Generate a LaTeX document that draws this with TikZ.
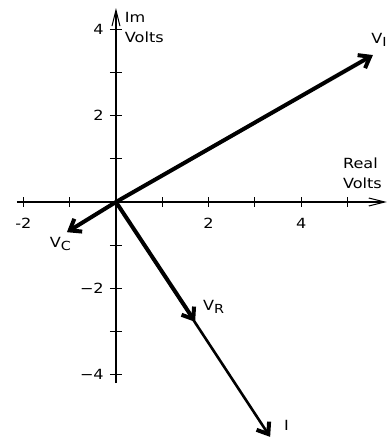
\documentclass[tikz,border=0pt]{standalone}
\usepackage{fontspec}
\setmainfont[FakeStretch=1.15]{DejaVu Sans}
\usepackage{tikz}
\usetikzlibrary{arrows.meta,positioning}
\newcommand{\lowsub}[1]{\raisebox{-0.45ex}{\fontsize{12.5}{12.5}\selectfont #1}}
\tikzset{
  axisline/.style={line width=1.1pt,-{Straight Barb[length=16pt,width=8pt,line width=1pt]}},
  tickmark/.style={line width=1.1pt},
  phasor/.style={line width=4pt,-{Straight Barb[length=10pt,width=15pt]}},
  current/.style={line width=2.6pt,-{Straight Barb[length=10pt,width=15pt,line width=4pt]}},
  ticklabel/.style={inner sep=0pt,font=\fontsize{14}{14}\selectfont},
  phasorlabel/.style={inner sep=0pt,anchor=north west,font=\fontsize{14}{14}\selectfont},
  axislabel/.style={inner sep=0pt,anchor=north west,align=left,font=\fontsize{14}{20}\selectfont}
}

\begin{document}
\begin{tikzpicture}[x=46.3pt,y=43.1pt]
  \useasboundingbox (-2.505,-5.476) rectangle (5.853,4.687);
  % axes
  \coordinate (O) at (0,0);
  \coordinate (xstart) at (-2.14,0);
  \coordinate (xend) at (5.85,0);
  \coordinate (ystart) at (0,-4.2);
  \coordinate (yend) at (0,4.5);
  \draw[axisline] (xstart) -- (xend);
  \draw[axisline] (ystart) -- (yend);
  \foreach \x in {-2,-1,1,2,3,4,5}
    \draw[tickmark] (\x,-0.116) -- (\x,0.116);
  \foreach \y in {-4,...,-1,1,2,3,4}
    \draw[tickmark] (-0.13,\y) -- (0.13,\y);
  \foreach \x/\t in {-2/-2,2/2,4/4}
    \node[ticklabel,anchor=north] (xlab\x) at (\x,-0.37) {\t};
  \foreach \y/\t in {4/4,2/2,-2/−2,-4/−4}
    \node[ticklabel,anchor=east] (ylab\y) at (-0.26,\y) {\t};
  \node[axislabel] (imlab) at (0.19,4.41) {Im\\Volts};
  \node[axislabel] (relab) at (4.90,1.04) {Real\\Volts};

  % phasors
  \coordinate (vi) at (5.55,3.41);
  \coordinate (vc) at (-1.06,-0.70);
  \coordinate (vr) at (1.71,-2.78);
  \coordinate (ii) at (3.33,-5.45);
  \draw[current] (O) -- (ii);
  \draw[phasor] (O) -- (vi);
  \draw[phasor] (O) -- (vc);
  \draw[phasor] (O) -- (vr);
  \node[phasorlabel] (vilab) at (5.51,3.92) {V\lowsub{I}};
  \node[phasorlabel] (vclab) at (-1.43,-0.81) {V\lowsub{C}};
  \node[phasorlabel] (vrlab) at (1.88,-2.27) {V\lowsub{R}};
  \node[phasorlabel] (ilab) at (3.63,-5.06) {I};
\end{tikzpicture}
\end{document}
